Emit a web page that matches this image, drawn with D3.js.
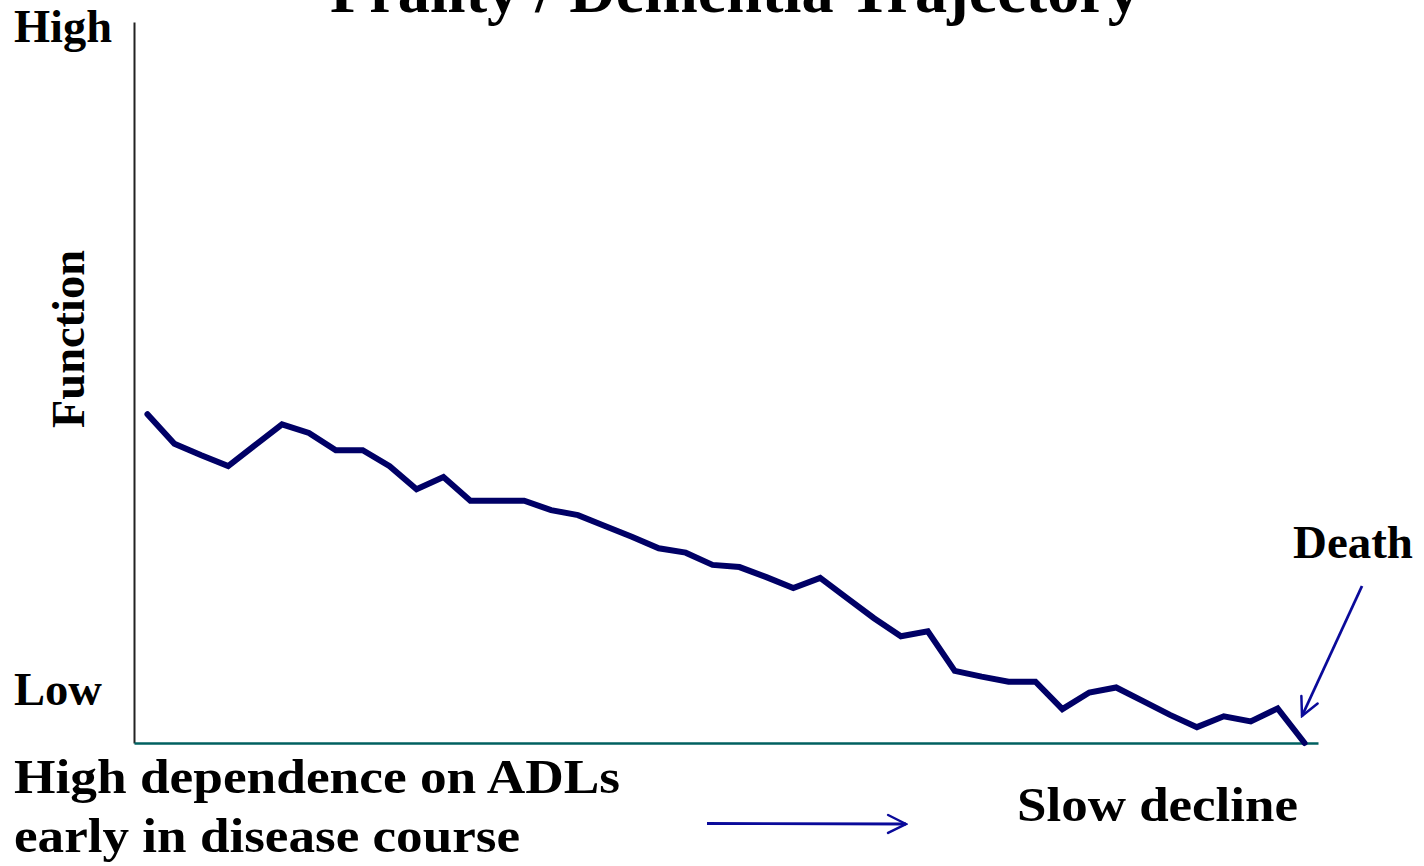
<!DOCTYPE html>
<html>
<head>
<meta charset="utf-8">
<script src="https://cdn.jsdelivr.net/npm/d3@7"></script>
<style>
  body { margin: 0; background: white; overflow: hidden; }
  text { font-family: "Liberation Serif", "Times New Roman", serif; font-weight: bold; fill: black; }
</style>
</head>
<body>
<div id="svgcontainer"></div>
<script>
// chart data: function level at each time step (0 = Low, 100 = High)
const steps = d3.range(44);
const functionLevel = [
  45.6, 41.5, 39.9, 38.4, 41.3, 44.2, 43.0, 40.6, 40.6, 38.4,
  35.2, 36.9, 33.6, 33.6, 33.6, 32.3, 31.6, 30.1, 28.6, 27.0,
  26.4, 24.7, 24.4, 23.0, 21.5, 22.9, 20.1, 17.3, 14.8, 15.5,
  10.0, 9.2, 8.5, 8.5, 4.7, 7.0, 7.7, 5.8, 3.9, 2.2,
  3.7, 3.0, 4.8, 0
];
const yTickLabels = ["Low", "High"];
const titleText = "Frailty / Dementia Trajectory";
const axisTitle = "Function";
const bottomLeftLines = ["High dependence on ADLs", "early in disease course"];
const bottomRightText = "Slow decline";
const deathText = "Death";

// container dimensions
const width = 1424;
const height = 866;

const svg = d3.select("#svgcontainer")
    .append("svg").attr("width", width).attr("height", height);

const x = d3.scaleLinear().domain([-0.5, 43.5]).range([134, 1318]);
const y = d3.scaleLinear().domain([0, 100]).range([743, 22]);

// title (runs off the top, as in the slide)
svg.append("text")
    .attr("x", 330)
    .attr("y", 12)
    .attr("font-size", 64)
    .attr("textLength", 810)
    .attr("lengthAdjust", "spacingAndGlyphs")
    .text(titleText);

// y axis
svg.append("g")
    .attr("transform", `translate(${x(-0.5)},0)`)
    .call(d3.axisLeft(y).tickValues([]).tickSizeOuter(0))
    .select(".domain").attr("stroke", "#222").attr("stroke-width", 2);

// x axis
svg.append("g")
    .attr("transform", `translate(0,${y(0)})`)
    .call(d3.axisBottom(x).tickValues([]).tickSizeOuter(0))
    .select(".domain").attr("stroke", "#006060").attr("stroke-width", 2.5);

// High / Low labels
svg.append("text")
    .attr("x", 14).attr("y", 42)
    .attr("font-size", 46)
    .attr("textLength", 98).attr("lengthAdjust", "spacingAndGlyphs")
    .text(yTickLabels[1]);

svg.append("text")
    .attr("x", 14).attr("y", 705)
    .attr("font-size", 47)
    .attr("textLength", 88).attr("lengthAdjust", "spacingAndGlyphs")
    .text(yTickLabels[0]);

// Function label
svg.append("text")
    .attr("transform", "translate(84,428) rotate(-90)")
    .attr("font-size", 47)
    .attr("textLength", 178).attr("lengthAdjust", "spacingAndGlyphs")
    .text(axisTitle);

// trajectory line
const line = d3.line()
    .x((d, i) => x(steps[i]))
    .y(d => y(d));

svg.append("path")
    .datum(functionLevel)
    .attr("d", line)
    .attr("fill", "none")
    .attr("stroke", "#000066")
    .attr("stroke-width", 6)
    .attr("stroke-linejoin", "miter")
    .attr("stroke-linecap", "round");

// arrow heads
const defs = svg.append("defs");
defs.append("marker")
    .attr("id", "openArrow")
    .attr("viewBox", "0 0 10 10")
    .attr("refX", 9).attr("refY", 5)
    .attr("markerWidth", 8).attr("markerHeight", 8)
    .attr("markerUnits", "strokeWidth")
    .attr("orient", "auto")
    .append("path")
    .attr("d", "M1,1 L9,5 L1,9")
    .attr("fill", "none")
    .attr("stroke", "#0a0a9a")
    .attr("stroke-width", 1.1)
    .attr("stroke-linecap", "round");

// Death label and arrow
svg.append("text")
    .attr("x", 1293).attr("y", 558)
    .attr("font-size", 46)
    .attr("textLength", 120).attr("lengthAdjust", "spacingAndGlyphs")
    .text(deathText);

svg.append("line")
    .attr("x1", 1362).attr("y1", 586)
    .attr("x2", 1302).attr("y2", 716)
    .attr("stroke", "#0a0a9a")
    .attr("stroke-width", 2.8)
    .attr("marker-end", "url(#openArrow)");

// bottom text
bottomLeftLines.forEach((t, i) => {
  svg.append("text")
      .attr("x", 14).attr("y", 793 + i * 59)
      .attr("font-size", 48)
      .attr("textLength", i === 0 ? 606 : 506).attr("lengthAdjust", "spacingAndGlyphs")
      .text(t);
});

svg.append("text")
    .attr("x", 1017).attr("y", 821)
    .attr("font-size", 49)
    .attr("textLength", 281).attr("lengthAdjust", "spacingAndGlyphs")
    .text(bottomRightText);

// horizontal arrow
svg.append("line")
    .attr("x1", 707).attr("y1", 823.5)
    .attr("x2", 906).attr("y2", 824)
    .attr("stroke", "#0a0a9a")
    .attr("stroke-width", 2.8)
    .attr("marker-end", "url(#openArrow)");
</script>
</body>
</html>
